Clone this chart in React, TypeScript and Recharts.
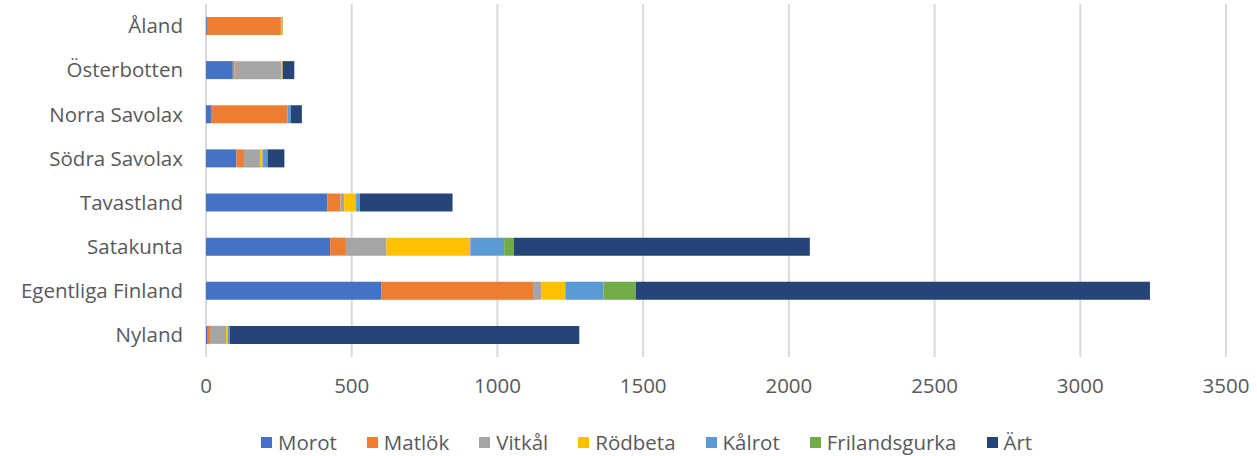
import React from 'react';
import { BarChart, Bar, XAxis, YAxis, CartesianGrid, Legend } from 'recharts';

const regions = ['Åland', 'Österbotten', 'Norra Savolax', 'Södra Savolax', 'Tavastland', 'Satakunta', 'Egentliga Finland', 'Nyland'];

const morot = [3, 92, 17, 104, 416, 426, 601, 6];
const matlok = [254, 6, 261, 26, 45, 54, 521, 8];
const vitkal = [0, 160, 3, 55, 13, 139, 28, 55];
const rodbeta = [5, 5, 0, 9, 41, 288, 83, 6];
const kalrot = [0, 0, 10, 17, 13, 116, 131, 7];
const frilandsgurka = [2, 0, 0, 0, 0, 33, 111, 0];
const art = [0, 40, 38, 58, 318, 1016, 1764, 1199];

const xTicks = [0, 500, 1000, 1500, 2000, 2500, 3000, 3500];

const series = [
  { key: 'Morot', values: morot, color: '#4472C4' },
  { key: 'Matlök', values: matlok, color: '#ED7D31' },
  { key: 'Vitkål', values: vitkal, color: '#A5A5A5' },
  { key: 'Rödbeta', values: rodbeta, color: '#FFC000' },
  { key: 'Kålrot', values: kalrot, color: '#5B9BD5' },
  { key: 'Frilandsgurka', values: frilandsgurka, color: '#70AD47' },
  { key: 'Ärt', values: art, color: '#264478' },
];

const data = regions.map((name, i) => {
  const row: Record<string, string | number> = { name };
  series.forEach(s => { row[s.key] = s.values[i]; });
  return row;
});

const FONT = '"Open Sans", sans-serif';
const TEXT = '#595959';

// legend in series order (recharts would sort it otherwise)
function SeriesLegend() {
  return (
    <div style={{ height: 49, boxSizing: 'border-box', paddingTop: 21, paddingLeft: 261, display: 'flex', alignItems: 'center', fontFamily: FONT, fontSize: 20.5, color: TEXT, lineHeight: '22px' }}>
      {series.map(s => (
        <div key={s.key} style={{ display: 'flex', alignItems: 'center', marginRight: 30 }}>
          <span style={{ display: 'inline-block', width: 11, height: 11, background: s.color, marginRight: 6 }} />
          <span>{s.key}</span>
        </div>
      ))}
    </div>
  );
}

export default function App() {
  return (
    <div style={{ position: 'absolute', left: 0, top: 0, fontFamily: FONT }}>
      <BarChart
        width={1257}
        height={456}
        data={data}
        layout="vertical"
        margin={{ top: 4, right: 31, left: 0, bottom: 0 }}
        barSize={18}
      >
        <CartesianGrid horizontal={false} stroke="#d9d9d9" strokeWidth={2} />
        <XAxis
          type="number"
          domain={[0, 3500]}
          ticks={xTicks}
          axisLine={false}
          tickLine={false}
          tickSize={0}
          tickMargin={21}
          height={50}
          tick={{ fill: TEXT, fontSize: 20.5, fontFamily: FONT }}
        />
        <YAxis
          type="category"
          dataKey="name"
          width={206}
          axisLine={false}
          tickLine={false}
          tickSize={0}
          tickMargin={23}
          tick={{ fill: TEXT, fontSize: 20.5, fontFamily: FONT }}
        />
        <Legend
          verticalAlign="bottom"
          height={49}
          wrapperStyle={{ left: 0, width: 1257 }}
          content={() => <SeriesLegend />}
        />
        {series.map(s => (
          <Bar
            key={s.key}
            dataKey={s.key}
            stackId="a"
            fill={s.color}
            isAnimationActive={false}
          />
        ))}
      </BarChart>
    </div>
  );
}
